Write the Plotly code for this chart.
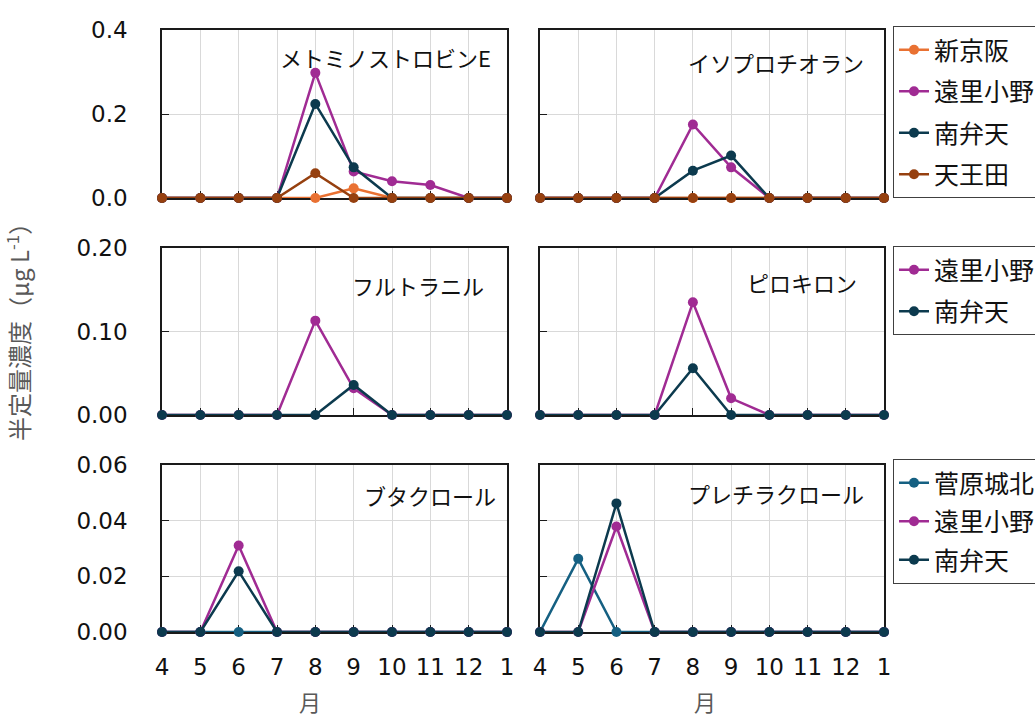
import plotly.graph_objects as go

W, H = 1035, 716

months = ["4", "5", "6", "7", "8", "9", "10", "11", "12", "1"]

colors = {
    "菅原城北": "#156082",
    "新京阪": "#E97132",
    "遠里小野": "#A02B93",
    "南弁天": "#0C3A4E",
    "天王田": "#96400F",
}

# Panel 1: メトミノストロビンE
p1_shinkeihan = [0, 0, 0, 0, 0, 0.023, 0, 0, 0, 0]
p1_ori_ono = [0, 0, 0, 0, 0.298, 0.063, 0.040, 0.031, 0, 0]
p1_minami = [0, 0, 0, 0, 0.224, 0.073, 0, 0, 0, 0]
p1_tennoden = [0, 0, 0, 0, 0.059, 0, 0, 0, 0, 0]

# Panel 2: イソプロチオラン
p2_shinkeihan = [0, 0, 0, 0, 0, 0, 0, 0, 0, 0]
p2_ori_ono = [0, 0, 0, 0, 0.175, 0.073, 0, 0, 0, 0]
p2_minami = [0, 0, 0, 0, 0.065, 0.101, 0, 0, 0, 0]
p2_tennoden = [0, 0, 0, 0, 0, 0, 0, 0, 0, 0]

# Panel 3: フルトラニル
p3_ori_ono = [0, 0, 0, 0, 0.113, 0.032, 0, 0, 0, 0]
p3_minami = [0, 0, 0, 0, 0, 0.036, 0, 0, 0, 0]

# Panel 4: ピロキロン
p4_ori_ono = [0, 0, 0, 0, 0.135, 0.020, 0, 0, 0, 0]
p4_minami = [0, 0, 0, 0, 0.056, 0, 0, 0, 0, 0]

# Panel 5: ブタクロール
p5_sugahara = [0, 0, 0, 0, 0, 0, 0, 0, 0, 0]
p5_ori_ono = [0, 0, 0.0311, 0, 0, 0, 0, 0, 0, 0]
p5_minami = [0, 0, 0.0218, 0, 0, 0, 0, 0, 0, 0]

# Panel 6: プレチラクロール
p6_sugahara = [0, 0.0263, 0, 0, 0, 0, 0, 0, 0, 0]
p6_ori_ono = [0, 0, 0.0379, 0, 0, 0, 0, 0, 0, 0]
p6_minami = [0, 0, 0.0462, 0, 0, 0, 0, 0, 0, 0]

titles = ["メトミノストロビンE", "イソプロチオラン", "フルトラニル", "ピロキロン", "ブタクロール", "プレチラクロール"]

panels = [
    (1, "legend", True, [("新京阪", p1_shinkeihan), ("遠里小野", p1_ori_ono), ("南弁天", p1_minami), ("天王田", p1_tennoden)]),
    (2, "legend", False, [("新京阪", p2_shinkeihan), ("遠里小野", p2_ori_ono), ("南弁天", p2_minami), ("天王田", p2_tennoden)]),
    (3, "legend2", True, [("遠里小野", p3_ori_ono), ("南弁天", p3_minami)]),
    (4, "legend2", False, [("遠里小野", p4_ori_ono), ("南弁天", p4_minami)]),
    (5, "legend3", True, [("菅原城北", p5_sugahara), ("遠里小野", p5_ori_ono), ("南弁天", p5_minami)]),
    (6, "legend3", False, [("菅原城北", p6_sugahara), ("遠里小野", p6_ori_ono), ("南弁天", p6_minami)]),
]

FONT = "DejaVu Sans, Verdana, Noto Sans CJK JP"
JFONT = "Noto Sans CJK JP, DejaVu Sans"

fig = go.Figure()

for idx, leg, show, series in panels:
    xa = "x" if idx == 1 else f"x{idx}"
    ya = "y" if idx == 1 else f"y{idx}"
    for name, vals in series:
        fig.add_trace(go.Scatter(
            x=months, y=vals, name=name, mode="lines+markers",
            line=dict(color=colors[name], width=2.5),
            marker=dict(color=colors[name], size=10),
            xaxis=xa, yaxis=ya, cliponaxis=False,
            legend=leg, showlegend=show, legendgroup=f"{leg}_{name}",
        ))

cols_px = [(162, 507), (540, 884)]
rows_px = [(30, 198), (248, 415), (465, 632)]
yranges = [[0, 0.4], [0, 0.2], [0, 0.06]]
ydticks = [0.2, 0.1, 0.02]
yfmts = [".1f", ".2f", ".2f"]

layout = dict(
    width=W, height=H,
    margin=dict(l=0, r=0, t=0, b=0, autoexpand=False),
    paper_bgcolor="white", plot_bgcolor="white",
    font=dict(family=FONT, size=23, color="#111111"),
)

for r in range(3):
    for c in range(2):
        idx = r * 2 + c + 1
        xk = "xaxis" if idx == 1 else f"xaxis{idx}"
        yk = "yaxis" if idx == 1 else f"yaxis{idx}"
        yan = "y" if idx == 1 else f"y{idx}"
        xan = "x" if idx == 1 else f"x{idx}"
        x0, x1 = cols_px[c]
        t, b = rows_px[r]
        layout[xk] = dict(
            domain=[x0 / W, x1 / W], anchor=yan,
            type="category", categoryorder="array", categoryarray=months,
            range=[0, 9],
            showgrid=True, gridcolor="#d9d9d9", gridwidth=1,
            showline=True, linecolor="#1a1a1a", linewidth=1.5, mirror=True,
            ticks="inside", ticklen=7, tickcolor="#1a1a1a",
            showticklabels=(r == 2), ticklabelstandoff=14,
            tickfont=dict(size=23, family=FONT, color="#111111"),
            zeroline=False, layer="below traces",
        )
        layout[yk] = dict(
            domain=[1 - b / H, 1 - t / H], anchor=xan,
            range=yranges[r], dtick=ydticks[r], tick0=0, tickformat=yfmts[r],
            showgrid=True, gridcolor="#d9d9d9", gridwidth=1,
            showline=True, linecolor="#1a1a1a", linewidth=1.5, mirror=True,
            ticks="inside", ticklen=7, tickcolor="#1a1a1a",
            showticklabels=(c == 0), ticklabelstandoff=28,
            tickfont=dict(size=23, family=FONT, color="#111111"),
            zeroline=False, layer="below traces",
        )

legend_common = dict(
    xref="paper", yref="paper", xanchor="left", yanchor="top",
    bgcolor="white", bordercolor="#404040", borderwidth=1,
    font=dict(family=JFONT, size=25, color="#111111"),
    traceorder="grouped", itemwidth=30,
)
layout["legend"] = dict(legend_common, x=893 / W, y=1 - 26 / H, tracegroupgap=6)
layout["legend2"] = dict(legend_common, x=893 / W, y=1 - 246 / H, tracegroupgap=6)
layout["legend3"] = dict(legend_common, x=893 / W, y=1 - 459 / H, tracegroupgap=3)

fig.update_layout(**layout)

title_pos = [(493, 57), (866, 62), (486, 285), (859, 282), (498, 495), (866, 493)]
for text, (px, py) in zip(titles, title_pos):
    fig.add_annotation(
        text=text, x=px / W, y=1 - py / H, xref="paper", yref="paper",
        xanchor="right", yanchor="middle", showarrow=False,
        font=dict(family=JFONT, size=22, color="#111111"),
    )

fig.add_annotation(
    text="半定量濃度（μg L<sup>-1</sup>）", x=18 / W, y=1 - 326 / H,
    xref="paper", yref="paper", textangle=-90, showarrow=False,
    xanchor="center", yanchor="middle",
    font=dict(family=JFONT, size=24, color="#595959"),
)
for px in (310, 705):
    fig.add_annotation(
        text="月", x=px / W, y=1 - 701 / H, xref="paper", yref="paper",
        showarrow=False, xanchor="center", yanchor="middle",
        font=dict(family=JFONT, size=22, color="#595959"),
    )

fig.write_html(
    "out.html",
    config={"displayModeBar": False},
    post_script="document.body.style.margin='0';document.body.style.padding='0';document.body.style.overflow='hidden';",
)
